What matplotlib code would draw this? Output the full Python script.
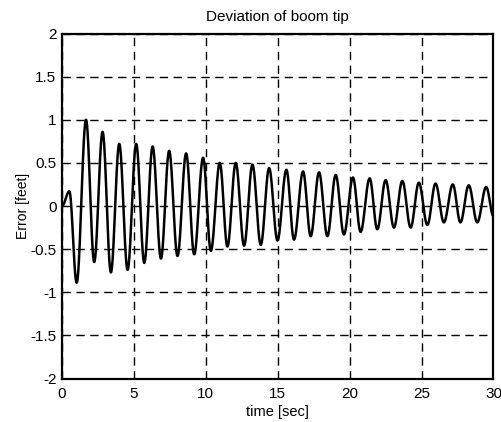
import numpy as np
import matplotlib
matplotlib.use("Agg")
import matplotlib.pyplot as plt

plt.rcParams['font.family'] = ['Liberation Sans', 'DejaVu Sans']

# Extrema of the boom-tip deviation (time [s], error [ft])
ext_t = [0.0, 0.51, 1.02, 1.67, 2.24, 2.82, 3.40, 3.98, 4.56, 5.16, 5.72, 6.30, 6.88,
         7.45, 8.03, 8.63, 9.19, 9.81, 10.35, 10.97, 11.50, 12.08, 12.66, 13.24, 13.82,
         14.40, 14.98, 15.60, 16.13, 16.76, 17.29, 17.87, 18.45, 19.03, 19.60, 20.23,
         20.76, 21.39, 21.92, 22.50, 23.08, 23.66, 24.24, 24.81, 25.40, 25.97, 26.55,
         27.17, 27.70, 28.28, 28.87, 29.49, 30.0]
ext_y = [0.0, 0.17, -0.89, 1.00, -0.65, 0.86, -0.77, 0.72, -0.74, 0.72, -0.66, 0.69, -0.61,
         0.64, -0.58, 0.61, -0.56, 0.56, -0.52, 0.50, -0.47, 0.50, -0.46, 0.48, -0.45,
         0.44, -0.40, 0.42, -0.39, 0.40, -0.35, 0.39, -0.35, 0.36, -0.33, 0.33,
         -0.30, 0.32, -0.27, 0.30, -0.25, 0.29, -0.25, 0.27, -0.22, 0.26, -0.19,
         0.25, -0.19, 0.24, -0.19, 0.22, -0.12]

xticks = [0, 5, 10, 15, 20, 25, 30]
yticks = [-2, -1.5, -1, -0.5, 0, 0.5, 1, 1.5, 2]
ytick_labels = ['-2', '-1.5', '-1', '-0.5', '0', '0.5', '1', '1.5', '2']

# smooth rendering between successive extrema (half-cosine segments)
seg_t, seg_y = [], []
for i in range(len(ext_t) - 1):
    s = np.linspace(0, 1, 30, endpoint=False)
    w = (1 - np.cos(np.pi * s)) / 2
    seg_t.append(ext_t[i] + (ext_t[i + 1] - ext_t[i]) * s)
    seg_y.append(ext_y[i] + (ext_y[i + 1] - ext_y[i]) * w)
seg_t.append([ext_t[-1]])
seg_y.append([ext_y[-1]])
t = np.concatenate(seg_t)
y = np.concatenate(seg_y)

fig = plt.figure(figsize=(5.01, 4.22), dpi=100)
ax = fig.add_axes([62 / 501, 1 - 378.5 / 422, (493.5 - 62) / 501, (378.5 - 33.5) / 422])

ax.plot(t, y, color='black', lw=1.8, zorder=3)
ax.set_xlim(0, 30)
ax.set_ylim(-2, 2)
ax.set_xticks(xticks)
ax.set_yticks(yticks)
ax.set_yticklabels(ytick_labels)
ax.grid(True, color='black', linestyle=(0, (6, 4)), linewidth=1.0)
ax.tick_params(direction='in', length=0, labelsize=11)
ax.tick_params(axis='x', pad=6)
ax.tick_params(axis='y', pad=4)
for sp in ax.spines.values():
    sp.set_linewidth(1.6)

ax.set_title('Deviation of boom tip', fontsize=11, pad=9)
ax.set_xlabel('time [sec]', fontsize=10.5, labelpad=3)
ax.set_ylabel('Error [feet]', fontsize=10, labelpad=0)

fig.savefig('out.png', dpi=100)
